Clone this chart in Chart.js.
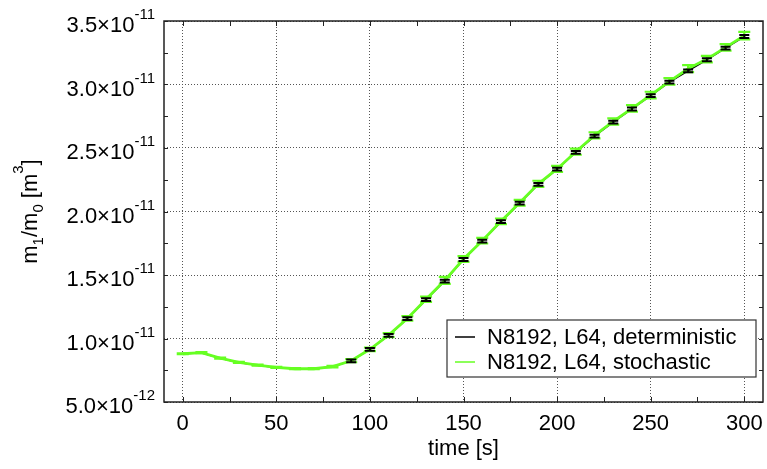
<!DOCTYPE html>
<html>
<head>
<meta charset="utf-8">
<script src="https://cdn.jsdelivr.net/npm/chart.js@4.4.1/dist/chart.umd.min.js"></script>
<style>
  body { margin: 0; background: #fff; }
  canvas { display: block; }
</style>
</head>
<body>
<canvas id="chart" width="767" height="469"></canvas>
<script>
const FONT = '"Liberation Sans", Arial, Helvetica, sans-serif';

// time [s]
const time = [0, 10, 20, 30, 40, 50, 60, 70, 80, 90, 100, 110, 120, 130, 140, 150,
  160, 170, 180, 190, 200, 210, 220, 230, 240, 250, 260, 270, 280, 290, 300];

// m1/m0 [m^3]
const deterministic = [8.80e-12, 8.88e-12, 8.44e-12, 8.11e-12, 7.89e-12, 7.71e-12, 7.61e-12,
  7.61e-12, 7.77e-12, 8.24e-12, 9.14e-12, 1.025e-11, 1.156e-11, 1.306e-11, 1.452e-11,
  1.622e-11, 1.767e-11, 1.920e-11, 2.066e-11, 2.214e-11, 2.333e-11, 2.466e-11, 2.594e-11,
  2.703e-11, 2.807e-11, 2.913e-11, 3.019e-11, 3.108e-11, 3.195e-11, 3.287e-11, 3.378e-11];
const deterministicErr = [0, 0, 0, 0, 0, 0, 0, 0, 0,
  1.1e-13, 1.1e-13, 1.1e-13, 1.1e-13, 1.1e-13, 1.1e-13, 1.1e-13, 1.1e-13, 1.1e-13, 1.1e-13,
  1.1e-13, 1.1e-13, 1.1e-13, 1.1e-13, 1.1e-13, 1.1e-13, 1.1e-13, 1.1e-13, 1.1e-13, 1.1e-13,
  1.1e-13, 1.1e-13];

const stochastic = [8.80e-12, 8.89e-12, 8.45e-12, 8.12e-12, 7.90e-12, 7.72e-12, 7.62e-12,
  7.62e-12, 7.78e-12, 8.25e-12, 9.15e-12, 1.027e-11, 1.158e-11, 1.309e-11, 1.458e-11,
  1.626e-11, 1.770e-11, 1.923e-11, 2.069e-11, 2.218e-11, 2.335e-11, 2.471e-11, 2.600e-11,
  2.709e-11, 2.812e-11, 2.917e-11, 3.024e-11, 3.125e-11, 3.200e-11, 3.292e-11, 3.385e-11];
const stochasticErr = [4e-14, 4e-14, 4e-14, 4e-14, 4e-14, 4e-14, 4e-14, 4e-14, 6e-14,
  1.2e-13, 1.4e-13, 1.6e-13, 1.8e-13, 2.0e-13, 2.8e-13, 2.2e-13, 2.2e-13, 2.2e-13, 2.2e-13,
  2.4e-13, 2.4e-13, 2.4e-13, 2.4e-13, 2.5e-13, 2.5e-13, 2.6e-13, 2.6e-13, 2.8e-13, 2.6e-13,
  2.6e-13, 3.0e-13];

// axes
const xTicks = [0, 50, 100, 150, 200, 250, 300];
const xTickMarks = [0, 25, 50, 75, 100, 125, 150, 175, 200, 225, 250, 275, 300];
const yTicks = [5e-12, 1e-11, 1.5e-11, 2e-11, 2.5e-11, 3e-11, 3.5e-11];
const yTickMarks = [5e-12, 7.5e-12, 1e-11, 1.25e-11, 1.5e-11, 1.75e-11, 2e-11, 2.25e-11,
  2.5e-11, 2.75e-11, 3e-11, 3.25e-11, 3.5e-11];
const yTickLabels = [["5.0\u00d710", "-12"], ["1.0\u00d710", "-11"], ["1.5\u00d710", "-11"],
  ["2.0\u00d710", "-11"], ["2.5\u00d710", "-11"], ["3.0\u00d710", "-11"], ["3.5\u00d710", "-11"]];

const BLACK = "#000000";
const GREEN = "#66ff22";

function toPoints(xs, ys) {
  return xs.map((x, i) => ({ x: x, y: ys[i] }));
}

// error bars, drawn after the lines
const errorBars = {
  id: "errorBars",
  afterDatasetsDraw(chart) {
    const ctx = chart.ctx;
    const xs = chart.scales.x;
    const ys = chart.scales.y;
    const sets = [
      { vals: stochastic, err: stochasticErr, color: GREEN, width: 2.2, cap: 6 },
      { vals: deterministic, err: deterministicErr, color: BLACK, width: 2, cap: 5 },
    ];
    ctx.save();
    sets.forEach((s) => {
      ctx.strokeStyle = s.color;
      ctx.lineWidth = s.width;
      time.forEach((t, i) => {
        if (!s.err[i]) return;
        const px = xs.getPixelForValue(t);
        const top = ys.getPixelForValue(s.vals[i] + s.err[i]);
        const bot = ys.getPixelForValue(s.vals[i] - s.err[i]);
        ctx.beginPath();
        ctx.moveTo(px, top);
        ctx.lineTo(px, bot);
        ctx.moveTo(px - s.cap, top);
        ctx.lineTo(px + s.cap, top);
        ctx.moveTo(px - s.cap, bot);
        ctx.lineTo(px + s.cap, bot);
        ctx.stroke();
      });
    });
    ctx.restore();
  },
};

// frame, tick marks, labels, titles, legend
const decorations = {
  id: "decorations",
  afterDraw(chart) {
    const ctx = chart.ctx;
    const area = chart.chartArea;
    const xs = chart.scales.x;
    const ys = chart.scales.y;
    ctx.save();

    // inner tick marks
    ctx.strokeStyle = "#222";
    ctx.lineWidth = 1;
    ctx.beginPath();
    xTickMarks.forEach((v) => {
      const px = Math.round(xs.getPixelForValue(v)) + 0.5;
      ctx.moveTo(px, area.bottom);
      ctx.lineTo(px, area.bottom - 5);
      ctx.moveTo(px, area.top);
      ctx.lineTo(px, area.top + 5);
    });
    yTickMarks.forEach((v) => {
      const py = Math.round(ys.getPixelForValue(v)) + 0.5;
      ctx.moveTo(area.left, py);
      ctx.lineTo(area.left + 4, py);
      ctx.moveTo(area.right, py);
      ctx.lineTo(area.right - 4, py);
    });
    ctx.stroke();

    // frame
    ctx.strokeStyle = "#222";
    ctx.lineWidth = 1.5;
    ctx.strokeRect(area.left, area.top, area.right - area.left, area.bottom - area.top);

    ctx.fillStyle = "#000";

    // x tick labels
    ctx.font = "22px " + FONT;
    ctx.textAlign = "center";
    ctx.textBaseline = "alphabetic";
    xTicks.forEach((v) => {
      ctx.fillText(String(v), xs.getPixelForValue(v), area.bottom + 28);
    });

    // y tick labels with exponent
    ctx.textAlign = "left";
    yTicks.forEach((v, i) => {
      const py = ys.getPixelForValue(v);
      const [base, exp] = yTickLabels[i];
      ctx.font = "15px " + FONT;
      const wExp = ctx.measureText(exp).width;
      ctx.font = "22px " + FONT;
      const wBase = ctx.measureText(base).width;
      const expX = area.left - 9 - wExp;
      ctx.fillText(base, expX - wBase, py + 11);
      ctx.font = "15px " + FONT;
      ctx.fillText(exp, expX, py - 2);
    });

    // x title
    ctx.font = "22px " + FONT;
    ctx.textAlign = "center";
    ctx.fillText("time [s]", (area.left + area.right) / 2, area.bottom + 53);

    // y title: m1/m0 [m3]
    const parts = [
      ["m", 22, 0], ["1", 15, 6], ["/m", 22, 0], ["0", 15, 6],
      [" [m", 22, 0], ["3", 15, -14], ["]", 22, 0],
    ];
    let total = 0;
    parts.forEach((p) => {
      ctx.font = p[1] + "px " + FONT;
      total += ctx.measureText(p[0]).width;
    });
    ctx.save();
    ctx.translate(37, (area.top + area.bottom) / 2);
    ctx.rotate(-Math.PI / 2);
    ctx.textAlign = "left";
    let cx = -total / 2;
    parts.forEach((p) => {
      ctx.font = p[1] + "px " + FONT;
      ctx.fillText(p[0], cx, p[2]);
      cx += ctx.measureText(p[0]).width;
    });
    ctx.restore();

    // legend
    const lw = 309, lh = 57;
    const lx = area.right - 316, ly = area.bottom - 82;
    ctx.fillStyle = "#fff";
    ctx.fillRect(lx, ly, lw, lh);
    ctx.strokeStyle = "#333";
    ctx.lineWidth = 1.2;
    ctx.strokeRect(lx, ly, lw, lh);
    const items = chart.data.datasets;
    ctx.font = "22px " + FONT;
    ctx.textAlign = "left";
    ctx.textBaseline = "middle";
    items.forEach((ds, i) => {
      const ry = ly + 17 + i * 25;
      ctx.strokeStyle = ds.borderColor;
      ctx.lineWidth = 1.5;
      ctx.beginPath();
      ctx.moveTo(lx + 8, ry);
      ctx.lineTo(lx + 28, ry);
      ctx.stroke();
      ctx.fillStyle = "#000";
      ctx.fillText(ds.label, lx + 40, ry + 1);
    });

    ctx.restore();
  },
};

new Chart(document.getElementById("chart").getContext("2d"), {
  type: "line",
  data: {
    datasets: [
      {
        label: "N8192, L64, deterministic",
        data: toPoints(time, deterministic),
        borderColor: BLACK,
        borderWidth: 1.5,
        pointRadius: 0,
        tension: 0,
        order: 2,
      },
      {
        label: "N8192, L64, stochastic",
        data: toPoints(time, stochastic),
        borderColor: GREEN,
        borderWidth: 2.8,
        pointRadius: 0,
        tension: 0,
        order: 1,
      },
    ],
  },
  options: {
    responsive: false,
    animation: false,
    layout: { padding: { top: 21, right: 4, left: 0, bottom: 0 } },
    plugins: { legend: { display: false }, tooltip: { enabled: false } },
    scales: {
      x: {
        type: "linear",
        min: -10,
        max: 310,
        afterBuildTicks: (s) => { s.ticks = xTicks.map((v) => ({ value: v })); },
        afterFit: (s) => { s.height = 67; },
        ticks: { display: false },
        grid: { color: "#555", lineWidth: 1, drawTicks: false },
        border: { display: false, dash: [1, 2] },
      },
      y: {
        type: "linear",
        min: 5e-12,
        max: 3.5e-11,
        afterBuildTicks: (s) => { s.ticks = yTicks.map((v) => ({ value: v })); },
        afterFit: (s) => { s.width = 164; },
        ticks: { display: false },
        grid: { color: "#555", lineWidth: 1, drawTicks: false },
        border: { display: false, dash: [1, 2] },
      },
    },
  },
  plugins: [errorBars, decorations],
});
</script>
</body>
</html>
